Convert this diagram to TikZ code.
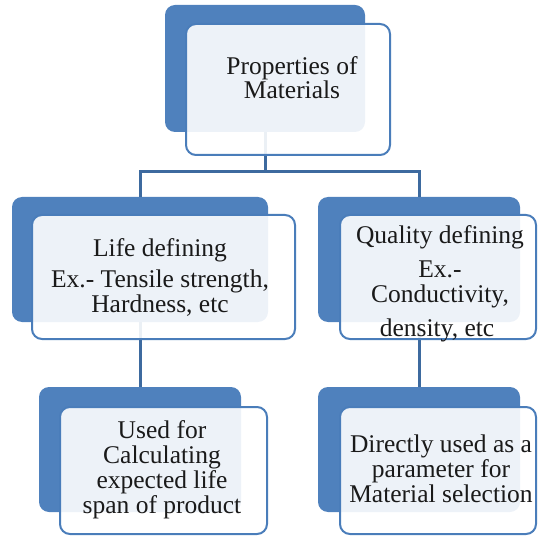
\documentclass[tikz,border=0pt]{standalone}
\usepackage{fontspec}
\setmainfont{Liberation Serif}
\newfontfamily\tnr{Liberation Serif}
\definecolor{backblue}{HTML}{4F81BD}
\definecolor{edgeblue}{HTML}{4A7DBA}
\definecolor{linkblue}{HTML}{3D6A9F}
\definecolor{txt}{HTML}{1A1A1A}
\tikzset{
  backbox/.style={rectangle, rounded corners=10pt, fill=backblue, draw=none, inner sep=0pt, outer sep=0pt},
  frontbox/.style={rectangle, rounded corners=10pt, fill=white, fill opacity=0.9, draw=edgeblue, line width=2pt, inner sep=0pt, outer sep=0pt},
  label/.style={align=center, text=txt, inner sep=0pt, font=\tnr\fontsize{25.5}{25}\selectfont},
  link/.style={draw=linkblue, line width=3pt}
}
\begin{document}
\begin{tikzpicture}[x=1pt,y=-1pt]
\useasboundingbox (0,0) rectangle (538,537);
% back boxes
\node[backbox, minimum width=200pt, minimum height=127pt] (tb) at (265,68.5) {};
\node[backbox, minimum width=256pt, minimum height=125pt] (lb) at (140,259.5) {};
\node[backbox, minimum width=202pt, minimum height=125pt] (rb) at (419,259.5) {};
\node[backbox, minimum width=202pt, minimum height=125pt] (llb) at (140,449.5) {};
\node[backbox, minimum width=202pt, minimum height=125pt] (rrb) at (419,449.5) {};
% connectors
\coordinate (j) at (265,172);
\draw[link] (tb.south) -- (j);
\draw[link] (lb.north) |- (j) -| (rb.north);
\draw[link] (lb.south) -- (llb.north);
\draw[link] (rb.south) -- (rrb.north);
% front boxes
\node[frontbox, minimum width=204pt, minimum height=131pt] (tf) at (288,89.5) {};
\node[frontbox, minimum width=263pt, minimum height=124pt] (lf) at (163.5,277) {};
\node[frontbox, minimum width=196pt, minimum height=124pt] (rf) at (438,277) {};
\node[frontbox, minimum width=207pt, minimum height=127pt] (llf) at (163.5,470.5) {};
\node[frontbox, minimum width=196pt, minimum height=127pt] (rrf) at (438,470.5) {};
% texts
\node[label, font=\tnr\fontsize{25.5}{23}\selectfont] (tt) at (292,78) {Properties of\\Materials};
\node[label] (lt) at (160,277.5) {Life defining\\[6pt]Ex.- Tensile strength,\\Hardness, etc};
\node[label] (rt) at (440,284) {Quality defining\\[9pt]Ex.-\hspace*{20pt}\\Conductivity,\\[9pt]density, etc\hspace*{6pt}};
\node[label] (llt) at (162,469.5) {Used for\\Calculating\\expected life\\span of product};
\node[label] (rrt) at (441,469) {Directly used as a\\parameter for\\Material selection};
\end{tikzpicture}
\end{document}
